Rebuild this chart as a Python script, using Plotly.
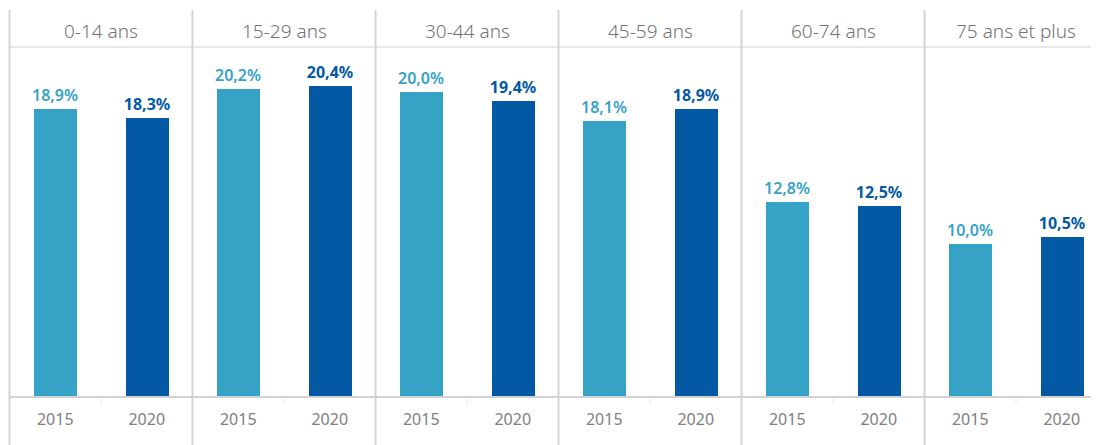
import plotly.graph_objects as go
from plotly.subplots import make_subplots

# data
groups = ['0-14 ans', '15-29 ans', '30-44 ans', '45-59 ans', '60-74 ans', '75 ans et plus']
years = ['2015', '2020']
values_2015 = [18.9, 20.2, 20.0, 18.1, 12.8, 10.0]
values_2020 = [18.3, 20.4, 19.4, 18.9, 12.5, 10.5]

colors = ['#36a2c6', '#0459a5']
grid = '#d3d3d3'
font = 'Noto Sans'

# page body has an 8px margin, so work in page pixels and shift
OFF = 8
W, H = 1099 - OFF, 445 - OFF
left = 9.5 - OFF
panel = 183.0
top_px, base_px = 47 - OFF, 397 - OFF
plot_h = base_px - top_px

fig = make_subplots(rows=1, cols=len(groups), horizontal_spacing=0)

for i, g in enumerate(groups):
    vals = [values_2015[i], values_2020[i]]
    fig.add_trace(go.Bar(
        x=years, y=vals, width=0.47,
        marker=dict(color=colors, line=dict(width=0)),
        text=[f'{v:.1f}%'.replace('.', ',') for v in vals],
        textposition='outside', cliponaxis=False, constraintext='none',
        textfont=dict(family=font, size=16, color=colors, weight=[600, 700]),
        hoverinfo='skip', showlegend=False,
    ), row=1, col=i + 1)

    x0 = left + panel * i
    x1 = min(x0 + panel, W)
    rng_hi = -0.5 + (x1 - x0) / (panel / 2)
    ax = 'xaxis' if i == 0 else f'xaxis{i + 1}'
    ay = 'yaxis' if i == 0 else f'yaxis{i + 1}'
    fig.layout[ax].update(domain=[x0 / W, x1 / W], range=[-0.5, rng_hi],
                          showgrid=False, zeroline=False, showline=False, ticks='',
                          tickfont=dict(family=font, size=16, color='#808080'),
                          ticklabelstandoff=11, fixedrange=True)
    fig.layout[ay].update(range=[0, 22.95], visible=False, fixedrange=True)

    # header label
    mid = (x0 + panel / 2) / W
    fig.add_annotation(x=mid, y=(base_px - (31 - OFF)) / plot_h,
                       xref='paper', yref='paper', xanchor='center', yanchor='middle',
                       text=g, showarrow=False,
                       font=dict(family=font, size=19, color='#737373', weight=300))
    # small divider between years
    fig.add_shape(type='line', xref='paper', yref='paper', x0=mid, x1=mid,
                  y0=0, y1=-8 / plot_h, line=dict(color='#ececec', width=1))

# vertical separators
for i in range(len(groups)):
    xp = (left + panel * i) / W
    fig.add_shape(type='line', xref='paper', yref='paper', x0=xp, x1=xp,
                  y0=-(H - base_px) / plot_h, y1=(base_px - (10 - OFF)) / plot_h,
                  line=dict(color=grid, width=2))

# header line and baseline
fig.add_shape(type='line', xref='paper', yref='paper', x0=left / W, x1=1, y0=1, y1=1,
              line=dict(color=grid, width=1))
fig.add_shape(type='line', xref='paper', yref='paper', x0=left / W, x1=1, y0=0, y1=0,
              line=dict(color=grid, width=2))

fig.update_layout(width=W, height=H, margin=dict(l=0, r=0, t=top_px, b=H - base_px),
                  paper_bgcolor='white', plot_bgcolor='white', bargap=0,
                  font=dict(family=font))

fig.write_html('out.html')
